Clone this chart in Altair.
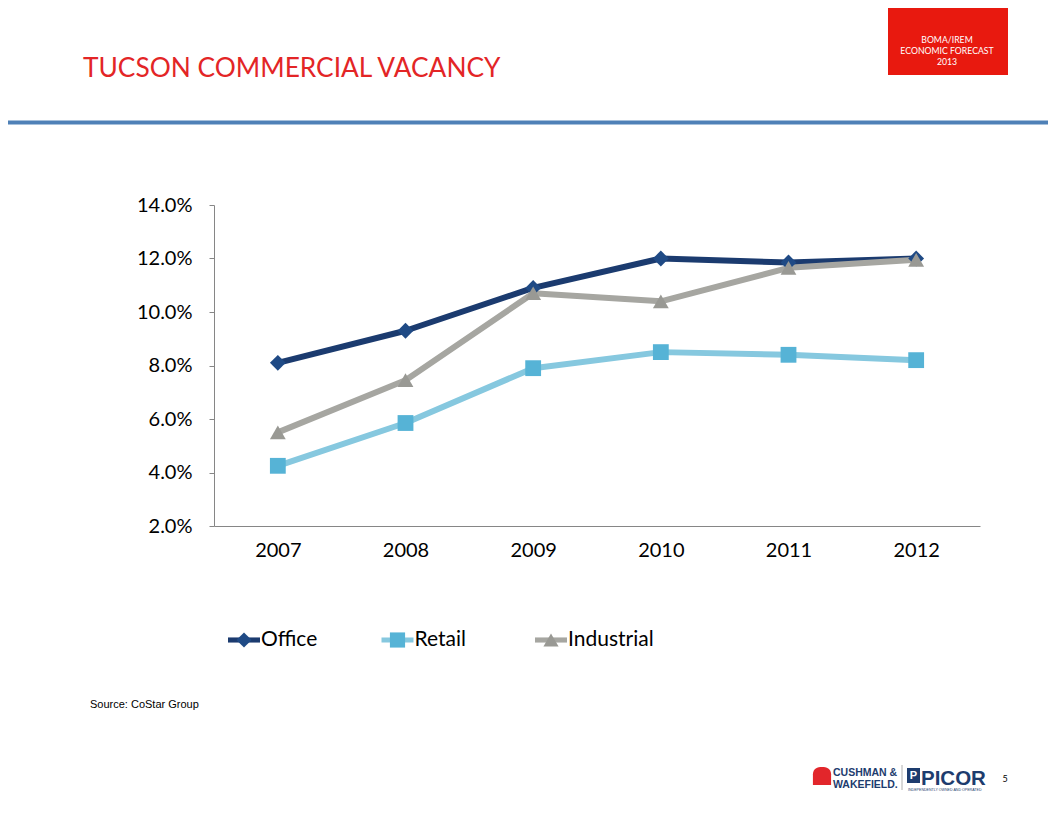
import altair as alt
import pandas as pd

# ---- data ----
years = ["2007", "2008", "2009", "2010", "2011", "2012"]
series_names = ["Office", "Retail", "Industrial"]
office = [8.1, 9.3, 10.9, 12.0, 11.85, 12.0]
retail = [4.25, 5.85, 7.9, 8.5, 8.4, 8.2]
industrial = [5.5, 7.45, 10.7, 10.4, 11.65, 11.95]
y_ticks = [2, 4, 6, 8, 10, 12, 14]

line_colors = ["#1b3b6f", "#86c8df", "#a6a6a1"]
marker_colors = ["#1f4a85", "#56b3d6", "#999994"]
marker_shapes = ["diamond", "square", "triangle-up"]

title_text = "TUCSON COMMERCIAL VACANCY"
box_lines = ["BOMA/IREM", "ECONOMIC  FORECAST", "2013"]
source_text = "Source: CoStar Group"
logo_lines = ["CUSHMAN &", "WAKEFIELD."]

rows = []
for name, vals in zip(series_names, [office, retail, industrial]):
    for yr, v in zip(years, vals):
        rows.append({"year": yr, "series": name, "value": v})
df = pd.DataFrame(rows)
leg_df = pd.DataFrame({"series": series_names})
one = pd.DataFrame({"k": [0]})

FONT = "Lato"
NAVY = "#1d3c6e"

color_scale = alt.Scale(domain=series_names, range=line_colors)
fill_scale = alt.Scale(domain=series_names, range=marker_colors)
shape_scale = alt.Scale(domain=series_names, range=marker_shapes)

x_enc = alt.X(
    "year:O",
    scale=alt.Scale(type="point", padding=0.5),
    axis=alt.Axis(
        title=None, ticks=False, labelAngle=0, labelFontSize=20, labelFont=FONT,
        labelColor="#000000", labelPadding=14, domainColor="#868686", domainWidth=1,
    ),
)
y_enc = alt.Y(
    "value:Q",
    scale=alt.Scale(domain=[2, 14], nice=False, zero=False),
    axis=alt.Axis(
        title=None, values=y_ticks, grid=False,
        labelExpr="format(datum.value, '.1f') + '%'",
        labelFontSize=20, labelFont=FONT, labelColor="#000000",
        tickSize=5, tickColor="#868686", domainColor="#868686", domainWidth=1,
        labelPadding=17,
    ),
)

lines = alt.Chart(df).mark_line(strokeWidth=6, strokeJoin="round").encode(
    x=x_enc, y=y_enc,
    color=alt.Color("series:N", scale=color_scale, legend=None),
    detail="series:N",
)
points = alt.Chart(df).mark_point(filled=True, opacity=1, size=250, strokeWidth=0).encode(
    x=x_enc, y=y_enc,
    fill=alt.Fill("series:N", scale=fill_scale, legend=None),
    shape=alt.Shape("series:N", scale=shape_scale, legend=None),
)
plot = alt.layer(lines, points)

# ---- legend (built from the series names) ----
leg_x = alt.X("series:N", scale=alt.Scale(type="point", domain=series_names, range=[30, 337], padding=0), axis=None)
leg_y = alt.value(435)
leg_stub = alt.Chart(leg_df).mark_point(filled=True, opacity=1, size=1024, strokeWidth=0).encode(
    x=leg_x, y=leg_y,
    color=alt.Color("series:N", scale=color_scale, legend=None),
    shape=alt.value("M-1,-0.16H1V0.16H-1Z"),
)
leg_marker = alt.Chart(leg_df).mark_point(filled=True, opacity=1, size=230, strokeWidth=0).encode(
    x=leg_x, y=leg_y,
    fill=alt.Fill("series:N", scale=fill_scale, legend=None),
    shape=alt.Shape("series:N", scale=shape_scale, legend=None),
)
leg_text = alt.Chart(leg_df).mark_text(
    align="left", baseline="middle", dx=17, fontSize=21, font=FONT, color="#000000"
).encode(x=leg_x, y=leg_y, text="series:N")
legend = alt.layer(leg_stub, leg_marker, leg_text)


def label(text, x, y, **kw):
    return alt.Chart(pd.DataFrame({"t": [text]})).mark_text(**kw).encode(
        x=alt.value(x), y=alt.value(y), text="t:N"
    )


# ---- slide decorations ----
red_box = alt.Chart(one).mark_rect(color="#e8190f").encode(
    x=alt.value(674), x2=alt.value(794), y=alt.value(-205), y2=alt.value(-130)
)
box_kw = dict(align="center", baseline="middle", fontSize=8.7, font=FONT, color="#ffffff")
box_text = [label(t, 733, yy, **box_kw) for t, yy in zip(box_lines, [-165, -154, -143])]
blue_rule = alt.Chart(one).mark_rule(color="#4f81b7", strokeWidth=4).encode(
    x=alt.value(-206), x2=alt.value(834), y=alt.value(-82.5)
)
title = label(title_text, -131, -128, align="left", baseline="alphabetic",
              fontSize=26.3, font=FONT, color="#e32526")
source = label(source_text, -124, 500, align="left", baseline="middle",
               fontSize=11, font="Liberation Sans", color="#000000")

# logo approximations
cw_icon = alt.Chart(one).mark_point(
    filled=True, opacity=1, size=330, color="#e2262b",
    shape="M-1,1V-0.2C-1,-0.8 -0.5,-1 0,-1C0.5,-1 1,-0.8 1,-0.2V1Z",
).encode(x=alt.value(608), y=alt.value(571))
logo_kw = dict(align="left", baseline="alphabetic", fontSize=10.5, fontWeight="bold",
               font="Liberation Sans", color=NAVY)
cw_text = [label(t, 619, yy, **logo_kw) for t, yy in zip(logo_lines, [571, 583])]
sep = alt.Chart(one).mark_rule(color="#b0b0b0", strokeWidth=1).encode(
    x=alt.value(688), y=alt.value(560), y2=alt.value(585)
)
picor_box = alt.Chart(one).mark_rect(color=NAVY).encode(
    x=alt.value(693), x2=alt.value(706), y=alt.value(563), y2=alt.value(578)
)
picor_p = label("P", 699.5, 571, align="center", baseline="middle", fontSize=11,
                fontWeight="bold", font="Liberation Sans", color="#ffffff")
picor = label("PICOR", 707, 580, align="left", baseline="alphabetic", fontSize=20.5,
              fontWeight="bold", font="Liberation Sans", color=NAVY)
picor_tag = label("INDEPENDENTLY OWNED AND OPERATED", 694, 585, align="left",
                  baseline="middle", fontSize=3.6, font="Liberation Sans", color=NAVY)
page_no = label("5", 791, 574, align="center", baseline="middle", fontSize=9,
                font=FONT, color="#000000")

chart = alt.layer(
    red_box, *box_text, blue_rule, title, source,
    plot, legend,
    cw_icon, *cw_text, sep, picor_box, picor_p, picor, picor_tag, page_no,
).resolve_scale(
    x="independent"
).properties(
    width=766, height=321,
    padding={"left": 206, "top": 197, "right": 68, "bottom": 282},
    autosize=alt.AutoSizeParams(type="none"),
    background="white",
).configure_view(stroke=None)

chart.save("out.html", embed_options={"renderer": "svg", "actions": False})
